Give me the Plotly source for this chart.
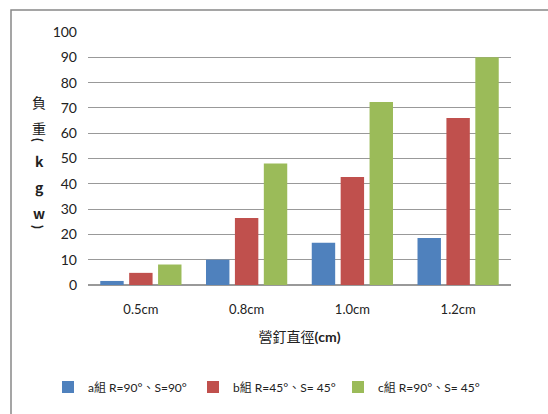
import plotly.graph_objects as go

# Nail diameter categories and load values (kgw) per group
categories = ["0.5cm", "0.8cm", "1.0cm", "1.2cm"]
group_names = ["a組 R=90°、S=90°", "b組 R=45°、S= 45°", "c組 R=90°、S= 45°"]
group_a = [1.6, 10.0, 16.7, 18.6]
group_b = [4.8, 26.5, 42.7, 66.0]
group_c = [8.1, 48.0, 72.3, 90.0]
y_ticks = [0, 10, 20, 30, 40, 50, 60, 70, 80, 90, 100]

# Vertical y-axis title, one glyph per row (brackets are turned 90°)
y_title_chars = ["負", "重", "<b>(</b>", "<b>k</b>", "<b>g</b>", "<b>w</b>", "<b>)</b>"]
y_title_rows = [102, 128, 140, 161, 187, 213, 227]
y_title_angles = [0, 0, 90, 0, 0, 0, 90]

colors = ["#4F81BD", "#C0504D", "#9BBB59"]
FONT = "Lato, Noto Sans CJK TC, sans-serif"
CJK = "Noto Sans CJK TC, sans-serif"

PLOT_L, PLOT_R, PLOT_T, PLOT_B = 88, 511, 32, 285
PW, PH = PLOT_R - PLOT_L, PLOT_B - PLOT_T


def px_x(x):
    return (x - PLOT_L) / PW


def px_y(y):
    return (PLOT_B - y) / PH


fig = go.Figure()
for name, vals, col in zip(group_names, [group_a, group_b, group_c], colors):
    fig.add_trace(go.Bar(
        x=categories, y=vals, name=name,
        marker=dict(color=col, line=dict(width=0)),
    ))

annotations = [
    dict(text=ch, xref="paper", yref="paper", x=px_x(39), y=px_y(yy),
         xanchor="center", yanchor="middle", showarrow=False, textangle=ang,
         font=dict(family=CJK if ang == 0 else FONT, size=14, color="#222222"))
    for ch, yy, ang in zip(y_title_chars, y_title_rows, y_title_angles)
]

fig.update_layout(
    width=548, height=414,
    margin=dict(l=PLOT_L, r=548 - PLOT_R, t=PLOT_T, b=414 - PLOT_B, autoexpand=False),
    paper_bgcolor="white", plot_bgcolor="white",
    barmode="group", bargap=0.18, bargroupgap=0.19,
    font=dict(family=FONT, size=13, color="#222222"),
    showlegend=True,
    legend=dict(
        orientation="h", x=px_x(48), xanchor="left", y=px_y(387), yanchor="middle",
        font=dict(family=FONT, size=12, color="#222222"),
        itemwidth=30, traceorder="normal",
        entrywidth=100, entrywidthmode="pixels",
    ),
    xaxis=dict(
        showgrid=False, showline=False, ticks="", automargin=False,
        ticklabelstandoff=15,
        tickfont=dict(family=FONT, size=13),
        title=dict(text="營釘直徑<b>(cm)</b>", standoff=16,
                   font=dict(family=FONT, size=14)),
    ),
    yaxis=dict(
        range=[0, 100], tickvals=y_ticks, automargin=False,
        showgrid=True, gridcolor="#999999", gridwidth=1,
        zeroline=True, zerolinecolor="#999999", zerolinewidth=1.5,
        showline=False, ticks="", ticklabelstandoff=10,
        tickfont=dict(family=FONT, size=14),
    ),
    shapes=[dict(
        type="rect", xref="paper", yref="paper",
        x0=px_x(11), x1=1.2, y0=-2.0, y1=px_y(10),
        line=dict(color="#888888", width=1.5), fillcolor="rgba(0,0,0,0)",
        layer="below",
    )],
    annotations=annotations,
)

fig.write_html("out.html")
